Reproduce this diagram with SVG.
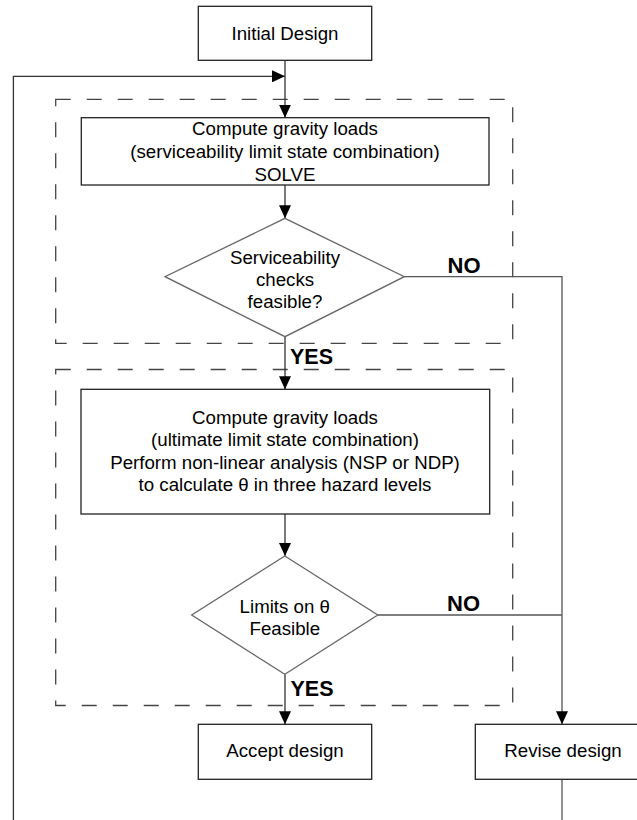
<svg xmlns="http://www.w3.org/2000/svg" width="637" height="820" viewBox="0 0 637 820">
<style>
.box{fill:#fff;stroke:#222;stroke-width:1.3}
.dia{fill:#fff;stroke:#666;stroke-width:1.3}
.grp{fill:none;stroke:#444;stroke-width:1.3;stroke-dasharray:15 16}
.ln{fill:none;stroke:#333;stroke-width:1.3}
.lg{fill:none;stroke:#555;stroke-width:1.3}
.t{font-family:"Liberation Sans",Arial,sans-serif;font-size:18.7px;fill:#000;text-anchor:middle}
.lbl{font-family:"Liberation Sans",Arial,sans-serif;font-size:21.5px;font-weight:bold;fill:#000}
</style>
<defs>
<marker id="ah" viewBox="0 0 13 12" refX="13" refY="6" markerWidth="13" markerHeight="12" markerUnits="userSpaceOnUse" orient="auto">
<path d="M0,0 L13,6 L0,12 Z" fill="#000"/>
</marker>
</defs>
<g id="groups">
<rect class="grp" x="55.7" y="99.3" width="457" height="244"/>
<rect class="grp" x="55.7" y="369.5" width="457" height="336"/>
</g>
<g id="connectors">
<line class="ln" x1="285" y1="60.3" x2="285" y2="117.7" marker-end="url(#ah)"/>
<polyline class="ln" points="13.4,820 13.4,76.3 285,76.3" marker-end="url(#ah)"/>
<line class="ln" x1="285" y1="185" x2="285" y2="218.3" marker-end="url(#ah)"/>
<line class="ln" x1="285" y1="336.7" x2="285" y2="389.3" marker-end="url(#ah)"/>
<line class="ln" x1="285" y1="514" x2="285" y2="556" marker-end="url(#ah)"/>
<line class="ln" x1="285" y1="674.3" x2="285" y2="724.3" marker-end="url(#ah)"/>
<polyline class="lg" points="404.3,276.7 562,276.7 562,724.3" marker-end="url(#ah)"/>
<line class="lg" x1="377.8" y1="615" x2="562" y2="615"/>
<line class="lg" x1="562" y1="779.3" x2="562" y2="820"/>
<text class="lbl" x="447.5" y="272.5" style="font-size:22px">NO</text>
<text class="lbl" x="290" y="364.3">YES</text>
<text class="lbl" x="447" y="611" style="font-size:22px">NO</text>
<text class="lbl" x="290.5" y="695.7">YES</text>
</g>
<g id="initial">
<rect class="box" x="198.3" y="6.3" width="173.4" height="54"/>
<text class="t" x="285" y="40">Initial Design</text>
</g>
<g id="compute1">
<rect class="box" x="81.3" y="117.7" width="407.7" height="67.3"/>
<text class="t" x="285" y="135">Compute gravity loads</text>
<text class="t" x="285" y="158.3">(serviceability limit state combination)</text>
<text class="t" x="285" y="181">SOLVE</text>
</g>
<g id="check1">
<polygon class="dia" points="285,218.3 404.3,276.7 285,336.7 165,276.7"/>
<text class="t" x="285" y="264">Serviceability</text>
<text class="t" x="285" y="285.5">checks</text>
<text class="t" x="285" y="308">feasible?</text>
</g>
<g id="compute2">
<rect class="box" x="81" y="389.3" width="408.7" height="124.7"/>
<text class="t" x="285" y="423.5">Compute gravity loads</text>
<text class="t" x="285" y="446">(ultimate limit state combination)</text>
<text class="t" x="285" y="468.5">Perform non-linear analysis (NSP or NDP)</text>
<text class="t" x="285" y="491">to calculate θ in three hazard levels</text>
</g>
<g id="check2">
<polygon class="dia" points="284.8,556 377.8,615 284.8,674.3 191.7,615"/>
<text class="t" x="284.8" y="613.3">Limits on θ</text>
<text class="t" x="284.8" y="635">Feasible</text>
</g>
<g id="accept">
<rect class="box" x="198.3" y="724.3" width="173.4" height="55"/>
<text class="t" x="285" y="756.7">Accept design</text>
</g>
<g id="revise">
<rect class="box" x="475.3" y="724.3" width="170" height="55"/>
<text class="t" x="563" y="756.7">Revise design</text>
</g>
</svg>
